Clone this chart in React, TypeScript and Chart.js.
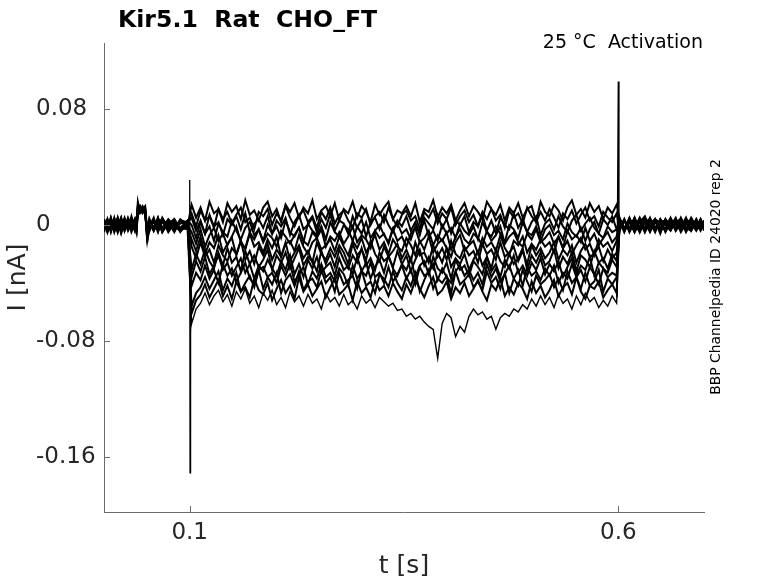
import React, { useRef, useEffect } from 'react';
import { Chart, registerables } from 'chart.js';

Chart.register(...registerables);

// sample times [s]
const preTimes = [0, 0.004, 0.008, 0.012, 0.016, 0.02, 0.024, 0.028, 0.032, 0.036, 0.038, 0.0395, 0.042, 0.045, 0.048, 0.0505, 0.053, 0.058, 0.063, 0.068, 0.075, 0.082, 0.089, 0.0975];
const stepStart = 0.1022;
const stepDt = 0.00522;
const stepTimes = Array.from({ length: 96 }, (_, i) => stepStart + i * stepDt);
const postTimes = [0.6015, 0.607, 0.613, 0.619, 0.625, 0.631, 0.637, 0.643, 0.649, 0.655, 0.661, 0.667, 0.673, 0.679, 0.685, 0.691, 0.696, 0.7];

// currents in pA: pre (24) | step (96) | post (18)
const sweep1 = [
  3, -4, 5, -2, 4, -5, 1, -3, 6, -2, 2, 16, 9, 12, 8, -6, 4, -3, 5, -4, 2, -5, 3, -1,
  14, 5, 12, 3, 16, 8, 11, 2, 15, 9, 13, 4, 17, 7, 10, 3,
  12, 16, 6, 11, 2, 14, 9, 15, 5, 12, 8, 17, 4, 10, 13, 6,
  15, 3, 11, 8, 16, 5, 13, 9, 2, 14, 7, 12, 16, 4, 10, 8,
  13, 6, 15, 2, 11, 9, 17, 5, 12, 8, 14, 3, 10, 15, 6, 13,
  9, 4, 16, 11, 7, 14, 3, 12, 8, 15, 5, 11, 13, 2, 16, 9,
  6, 14, 10, 3, 12, 17, 7, 11, 5, 15, 9, 13, 4, 12, 8, 14,
  4, -3, 5, -5, 2, 6, -2, 3, -6, 4, -1, 5, -4, 2, -3, 4, -2, 1,
];
const sweep2 = [
  -3, 4, -5, 3, -1, 5, -4, 2, -2, 4, -1, 11, 13, 8, 10, -8, -2, 4, -4, 5, -2, 3, -5, 2,
  8, -1, 10, 3, 6, -2, 11, 4, 9, 1, 7, 12, 2, 5, -3, 9,
  6, 11, 0, 8, 3, 13, 5, -1, 7, 10, 2, 6, -2, 9, 4, 12,
  1, 7, 10, 3, -2, 8, 5, 11, 0, 6, 9, 2, 12, 4, -1, 7,
  10, 3, 6, -3, 9, 5, 11, 1, 8, 4, 12, 0, 6, 10, 2, 7,
  -1, 9, 4, 11, 3, 7, -2, 10, 5, 8, 1, 12, 6, 2, 9, 3,
  11, 5, -2, 8, 4, 10, 1, 7, 12, 3, 6, -1, 9, 5, 2, 8,
  -4, 3, -2, 5, -5, 3, -3, 4, 1, -4, 5, -2, 3, -5, 2, -1, 4, -3,
];
const sweep3 = [
  2, -5, 3, -3, 5, -2, 4, -4, 1, -3, 3, 9, 12, 10, 9, -4, 2, -4, 3, -5, 1, 4, -3, 2,
  5, -4, 3, -6, 7, -1, 2, -7, 4, 0, 6, -3, 8, -5, 1, 4,
  -2, 6, -6, 3, -1, 5, -7, 2, 7, -3, 0, 5, -5, 4, -2, 8,
  -4, 3, 1, -6, 6, -2, 4, -8, 2, 5, -3, 7, 0, -5, 3, -1,
  6, -4, 2, -7, 5, 1, -3, 7, -2, 4, -6, 3, 0, 6, -5, 2,
  -1, 7, -4, 3, -6, 5, 0, -3, 8, -2, 4, -5, 2, 6, -7, 1,
  4, -3, 6, -1, -5, 3, 7, -4, 1, 5, -2, -6, 4, 0, 6, -3,
  3, -5, 4, 0, -3, 5, -4, 2, -2, 4, -3, 3, -5, 1, 4, -2, 3, -4,
];
const sweep4 = [
  -4, 3, -2, 4, -5, 2, -3, 5, -1, 3, -4, 8, 11, 12, 9, -10, -4, 3, -2, 4, -5, 1, -3, 3,
  0, -9, 2, -6, -1, -11, 1, -5, -8, 3, -4, -10, -2, 2, -7, -3,
  -11, 0, -6, -1, -9, 3, -5, -8, -2, -12, 1, -4, -7, -1, -10, 2,
  -5, -8, 0, -3, -11, -1, -6, 2, -9, -4, 0, -7, -12, -2, 1, -6,
  -3, -10, -1, -5, 3, -8, -4, -11, 0, -6, -2, -9, 1, -4, -7, -1,
  -10, 2, -5, -8, -1, -6, -12, 0, -3, -9, 2, -5, -7, -1, -11, -3,
  0, -7, -4, -10, 1, -5, -8, -2, -11, -3, 2, -6, -9, -1, -5, -3,
  -2, 4, -4, 3, -5, 2, 4, -3, 3, -5, 2, -3, 5, -2, -4, 3, -1, 2,
];
const sweep5 = [
  4, -3, 5, -4, 3, -6, 2, -2, 4, -3, 1, 12, 9, 11, 10, -12, 3, -2, 5, -4, 1, -3, 4, 0,
  -5, -13, -3, -15, -7, -2, -11, -6, -14, -8, -1, -12, -16, -5, -10, -3,
  -12, -6, -9, -15, -4, -8, -13, -7, -2, -11, -14, -5, -9, -3, -15, -8,
  -11, -5, -13, -8, -1, -12, -7, -10, -16, -4, -9, -6, -13, -3, -11, -8,
  -15, -6, -2, -12, -9, -4, -14, -7, -11, -5, -17, -8, -3, -10, -13, -6,
  -9, -14, -4, -11, -7, -1, -13, -8, -5, -12, -15, -6, -10, -3, -12, -9,
  -5, -13, -8, -16, -4, -10, -7, -12, -2, -11, -6, -14, -9, -5, -12, -8,
  5, -2, 3, -4, 4, -3, 2, -5, 4, 0, -4, 3, -2, 5, -3, 2, -4, 1,
];
const sweep6 = [
  -5, 2, -4, 5, -3, 4, -2, 3, -5, 1, -2, 10, 12, 11, 13, -5, -1, 5, -4, 2, -2, 4, -3, -1,
  -10, -18, -8, -20, -12, -16, -7, -19, -13, -9, -21, -11, -17, -6, -15, -12,
  -19, -10, -16, -8, -22, -13, -11, -18, -7, -15, -20, -12, -9, -17, -14, -10,
  -18, -8, -15, -21, -11, -16, -9, -19, -13, -7, -17, -12, -20, -10, -15, -18,
  -9, -14, -21, -11, -17, -8, -19, -13, -10, -16, -22, -12, -7, -18, -14, -11,
  -20, -9, -15, -12, -18, -7, -16, -21, -11, -14, -8, -19, -13, -17, -10, -15,
  -12, -19, -8, -16, -11, -20, -14, -9, -17, -13, -21, -10, -15, -12, -18, -11,
  -3, 4, -5, 2, -1, 5, -4, 3, -2, 1, 4, -4, 2, -3, 5, -1, -2, 3,
];
const sweep7 = [
  3, -2, 4, -5, 2, -3, 5, -1, 3, -4, 2, 12, 8, 10, 11, -8, 4, -4, 2, -3, 3, -1, -2, 3,
  -15, -23, -12, -22, -17, -26, -14, -21, -25, -16, -20, -11, -24, -18, -27, -15,
  -21, -13, -24, -17, -22, -12, -25, -19, -14, -23, -18, -26, -12, -20, -24, -16,
  -22, -14, -19, -27, -13, -21, -17, -24, -11, -20, -25, -15, -22, -18, -13, -23,
  -17, -25, -12, -21, -19, -26, -14, -22, -16, -24, -11, -20, -23, -15, -21, -18,
  -26, -13, -20, -17, -24, -12, -22, -19, -15, -25, -18, -27, -14, -21, -16, -23,
  -19, -12, -24, -17, -21, -14, -26, -18, -13, -22, -20, -15, -25, -17, -23, -19,
  2, -4, 3, -2, 5, -3, 1, 4, -5, 3, -2, 2, -4, 1, 3, -3, 4, -1,
];
const sweep8 = [
  -2, 4, -4, 2, -5, 3, -3, 4, -2, 3, -3, 9, 13, 10, 9, -6, -3, 3, -5, 4, -2, 2, -4, -1,
  -31, -20, -27, -17, -25, -30, -19, -28, -16, -26, -22, -32, -18, -27, -21, -29,
  -24, -17, -31, -21, -26, -19, -30, -23, -16, -28, -22, -25, -32, -18, -27, -20,
  -29, -17, -24, -30, -21, -26, -16, -28, -23, -31, -19, -25, -22, -29, -18, -27,
  -21, -32, -24, -17, -28, -22, -30, -19, -26, -16, -29, -23, -27, -20, -31, -24,
  -18, -28, -22, -30, -17, -25, -29, -20, -27, -23, -16, -31, -21, -26, -19, -28,
  -25, -17, -30, -22, -27, -19, -32, -21, -24, -29, -18, -26, -23, -30, -20, -25,
  4, -3, 2, -5, 3, -2, 5, -4, 2, 3, -3, 1, -2, 4, -4, 2, -1, 3,
];
const sweep9 = [
  2, -5, 3, -2, 4, -4, 2, -3, 4, -1, 2, 10, 11, 12, 9, -4, 3, -2, 4, -5, 3, -3, 1, 2,
  -36, -25, -32, -22, -34, -28, -21, -31, -26, -35, -29, -23, -33, -27, -37, -28,
  -32, -24, -30, -35, -25, -31, -21, -34, -27, -36, -24, -30, -22, -33, -29, -26,
  -35, -23, -31, -28, -34, -22, -32, -26, -37, -29, -24, -33, -21, -30, -35, -27,
  -31, -23, -36, -28, -25, -34, -22, -30, -33, -26, -37, -24, -31, -28, -35, -25,
  -29, -34, -22, -32, -27, -36, -24, -30, -21, -33, -28, -35, -26, -31, -23, -34,
  -27, -32, -25, -36, -29, -23, -34, -28, -31, -22, -35, -26, -30, -33, -24, -29,
  -3, 3, -4, 4, -2, 2, -5, 3, 1, -3, 4, -2, 2, -4, 3, -1, -3, 2,
];
const sweep10 = [
  -3, 3, -4, 2, -2, 5, -4, 3, -1, 4, -3, 13, 10, 9, 12, -7, 2, -3, 3, -2, 4, -1, -4, 2,
  -42, -33, -38, -28, -37, -31, -40, -27, -35, -30, -39, -33, -26, -37, -41, -31,
  -29, -36, -33, -40, -28, -35, -27, -39, -34, -29, -41, -32, -37, -27, -36, -33,
  -39, -30, -34, -42, -28, -37, -32, -35, -26, -36, -33, -40, -29, -39, -34, -28,
  -37, -31, -41, -29, -35, -33, -27, -38, -30, -36, -40, -32, -28, -35, -31, -38,
  -33, -41, -27, -36, -30, -39, -34, -28, -37, -31, -42, -29, -35, -32, -38, -30,
  -35, -28, -40, -33, -37, -27, -36, -31, -39, -29, -34, -41, -30, -36, -33, -35,
  3, -4, 2, -3, 4, -5, 3, -2, 4, -4, 2, 3, -3, 1, -2, 4, -3, 1,
];
const sweep11 = [
  4, -2, 2, -4, 5, -3, 3, -1, 2, -4, 3, 11, 10, 11, 9, -5, -4, 4, -3, 3, 1, -2, 3, 2,
  -56, -47, -43, -36, -44, -38, -32, -45, -37, -42, -33, -46, -40, -35, -43, -31,
  -44, -36, -41, -33, -47, -38, -34, -42, -32, -45, -39, -37, -43, -31, -40, -36,
  -46, -33, -41, -38, -35, -44, -31, -42, -39, -47, -34, -37, -43, -32, -40, -45,
  -36, -42, -33, -46, -38, -31, -44, -37, -40, -35, -47, -32, -41, -38, -34, -43,
  -39, -45, -32, -40, -36, -44, -33, -47, -37, -42, -31, -39, -46, -35, -41, -38,
  -34, -43, -37, -45, -32, -40, -36, -44, -33, -42, -39, -31, -46, -37, -41, -36,
  -2, 3, -4, 5, -3, 2, -2, 4, -4, 3, -3, 2, 4, -2, 1, -4, 2, -1,
];
const sweep12 = [
  1, 3, -3, 4, -4, 2, -2, 3, -1, 2, -3, 12, 9, 13, 10, -10, 1, -4, 2, 4, -3, 2, -2, -3,
  -61, -52, -48, -41, -50, -44, -38, -49, -42, -51, -39, -46, -43, -50, -37, -45,
  -48, -40, -52, -44, -38, -47, -42, -51, -36, -46, -41, -49, -44, -39, -50, -43,
  -37, -48, -45, -41, -52, -39, -47, -43, -50, -38, -45, -42, -49, -40, -46, -51,
  -41, -47, -38, -44, -50, -42, -36, -48, -45, -39, -51, -43, -47, -40, -49, -44,
  -38, -46, -52, -41, -45, -37, -49, -43, -48, -40, -44, -51, -39, -47, -42, -50,
  -45, -38, -49, -43, -40, -48, -36, -46, -51, -42, -44, -39, -50, -45, -41, -47,
  2, -4, 4, -3, 3, -5, 2, 3, -2, -3, 4, -4, 1, -2, 3, -3, 2, -1,
];
const sweep13 = [
  -4, 2, -2, 3, -3, 4, 1, -2, 3, -1, 0, 11, 12, 9, 8, -6, -3, 2, -4, 3, -1, 2, -3, 1,
  -68, -58, -54, -47, -55, -49, -45, -53, -48, -56, -46, -51, -44, -54, -49, -57,
  -47, -52, -45, -55, -50, -57, -46, -53, -49, -56, -48, -54, -51, -58, -47, -53,
  -50, -56, -48, -55, -52, -58, -49, -54, -51, -57, -50,
  -53, -56, -54, -59, -58,
  -63, -61, -65, -63, -67, -70, -72, -92,
  -68, -61, -64, -77, -70, -74, -63, -58,
  -62, -60, -65, -63, -72, -64, -61, -63, -58, -60, -55, -58,
  -51, -56, -49, -55, -50, -57, -48, -54, -51, -58, -49, -55, -47, -53, -50, -57, -52, -56, -49, -54,
  3, -3, 5, -2, -4, 3, -3, 4, -2, 2, -4, 3, -1, 4, -3, 2, -2, 1,
];
const sweeps = [sweep1, sweep2, sweep3, sweep4, sweep5, sweep6, sweep7, sweep8, sweep9, sweep10, sweep11, sweep12, sweep13];

// capacitive transients at step on / off (pA)
const onsetTimes = [0.0997, 0.1, 0.1004, 0.1008, 0.1012, 0.1017];
const onsetValues = [0, 31, -171, -110, -75, -60];
const offsetTimes = [0.5985, 0.6, 0.6008, 0.6015];
const offsetValues = [-50, 99, 2, 0];

const xTicks = [0.1, 0.6];
const yTicks = [-0.16, -0.08, 0, 0.08];

const AXIS = '#6b6b6b';
const LABEL = '#262626';
const FONT = "'DejaVu Sans', sans-serif";

const allTimes = [...preTimes, ...stepTimes, ...postTimes];
const toPoints = (ts: number[], vs: number[]) =>
  ts.map((t, i) => ({ x: t, y: vs[i] === undefined ? null : vs[i] / 1000 })).filter((p) => p.y !== null);

const textPlugin = {
  id: 'textPlugin',
  afterDraw(chart: any) {
    const { ctx, chartArea, scales } = chart;
    ctx.save();
    // inward ticks
    ctx.strokeStyle = AXIS;
    ctx.lineWidth = 1;
    ctx.beginPath();
    yTicks.forEach((v) => {
      const y = Math.round(scales.y.getPixelForValue(v)) + 0.5;
      ctx.moveTo(chartArea.left, y);
      ctx.lineTo(chartArea.left + 6, y);
    });
    xTicks.forEach((v) => {
      const x = Math.round(scales.x.getPixelForValue(v)) + 0.5;
      ctx.moveTo(x, chartArea.bottom);
      ctx.lineTo(x, chartArea.bottom - 6);
    });
    ctx.stroke();

    ctx.fillStyle = '#000';
    ctx.font = `bold 23.6px ${FONT}`;
    ctx.textAlign = 'left';
    ctx.textBaseline = 'alphabetic';
    ctx.fillText('Kir5.1  Rat  CHO_FT', 118, 27);

    ctx.font = `19px ${FONT}`;
    ctx.textAlign = 'right';
    ctx.fillText('25 °C  Activation', 703, 48);

    ctx.fillStyle = LABEL;
    ctx.font = `25px ${FONT}`;
    ctx.textAlign = 'center';
    ctx.textBaseline = 'middle';
    ctx.fillText('t [s]', (chartArea.left + chartArea.right) / 2, 566);

    ctx.save();
    ctx.translate(18, (chartArea.top + chartArea.bottom) / 2);
    ctx.rotate(-Math.PI / 2);
    ctx.fillText('I [nA]', 0, 0);
    ctx.restore();

    ctx.save();
    ctx.fillStyle = '#000';
    ctx.font = `13.9px ${FONT}`;
    ctx.translate(716, 277);
    ctx.rotate(-Math.PI / 2);
    ctx.fillText('BBP Channelpedia ID 24020 rep 2', 0, 0);
    ctx.restore();

    ctx.restore();
  },
};

const App: React.FC = () => {
  const canvasRef = useRef<HTMLCanvasElement>(null);
  const chartRef = useRef<Chart | null>(null);

  useEffect(() => {
    document.body.style.margin = '0';
    if (!canvasRef.current) return;
    if (chartRef.current) chartRef.current.destroy();

    const line = { borderColor: '#000', borderWidth: 2, pointRadius: 0, tension: 0, fill: false };
    const datasets: any[] = sweeps.map((s, k) => ({
      ...line,
      borderWidth: k === sweeps.length - 1 ? 1.4 : 2,
      data: toPoints(allTimes, s),
    }));
    datasets.push({ ...line, borderWidth: 1.3, data: toPoints(onsetTimes, onsetValues) });
    datasets.push({ ...line, borderWidth: 1.3, data: toPoints(offsetTimes, offsetValues) });

    chartRef.current = new Chart(canvasRef.current, {
      type: 'line',
      data: { datasets },
      plugins: [textPlugin],
      options: {
        responsive: false,
        animation: false,
        devicePixelRatio: 1,
        layout: { padding: { left: 36, right: 74, top: 43, bottom: 0 } },
        plugins: { legend: { display: false }, tooltip: { enabled: false }, title: { display: false } },
        scales: {
          x: {
            type: 'linear',
            min: 0,
            max: 0.7,
            grid: { display: false, drawTicks: false },
            border: { display: true, color: AXIS, width: 1 },
            afterBuildTicks: (scale: any) => {
              scale.ticks = xTicks.map((value) => ({ value }));
            },
            afterFit: (scale: any) => {
              scale.height = 71;
            },
            ticks: {
              color: LABEL,
              padding: 7,
              maxRotation: 0,
              font: { family: FONT, size: 23 },
              callback: (v: any) => String(v),
            },
          },
          y: {
            type: 'linear',
            min: -0.198,
            max: 0.1255,
            grid: { display: false, drawTicks: false },
            border: { display: true, color: AXIS, width: 1 },
            afterBuildTicks: (scale: any) => {
              scale.ticks = yTicks.map((value) => ({ value }));
            },
            afterFit: (scale: any) => {
              scale.width = 68;
            },
            ticks: {
              color: LABEL,
              crossAlign: 'far',
              font: { family: FONT, size: 23 },
              callback: (v: any) => String(v),
            },
          },
        },
      },
    });

    return () => {
      if (chartRef.current) {
        chartRef.current.destroy();
        chartRef.current = null;
      }
    };
  }, []);

  return (
    <div style={{ width: 778, height: 583 }}>
      <canvas ref={canvasRef} width={778} height={583} />
    </div>
  );
};

export default App;
